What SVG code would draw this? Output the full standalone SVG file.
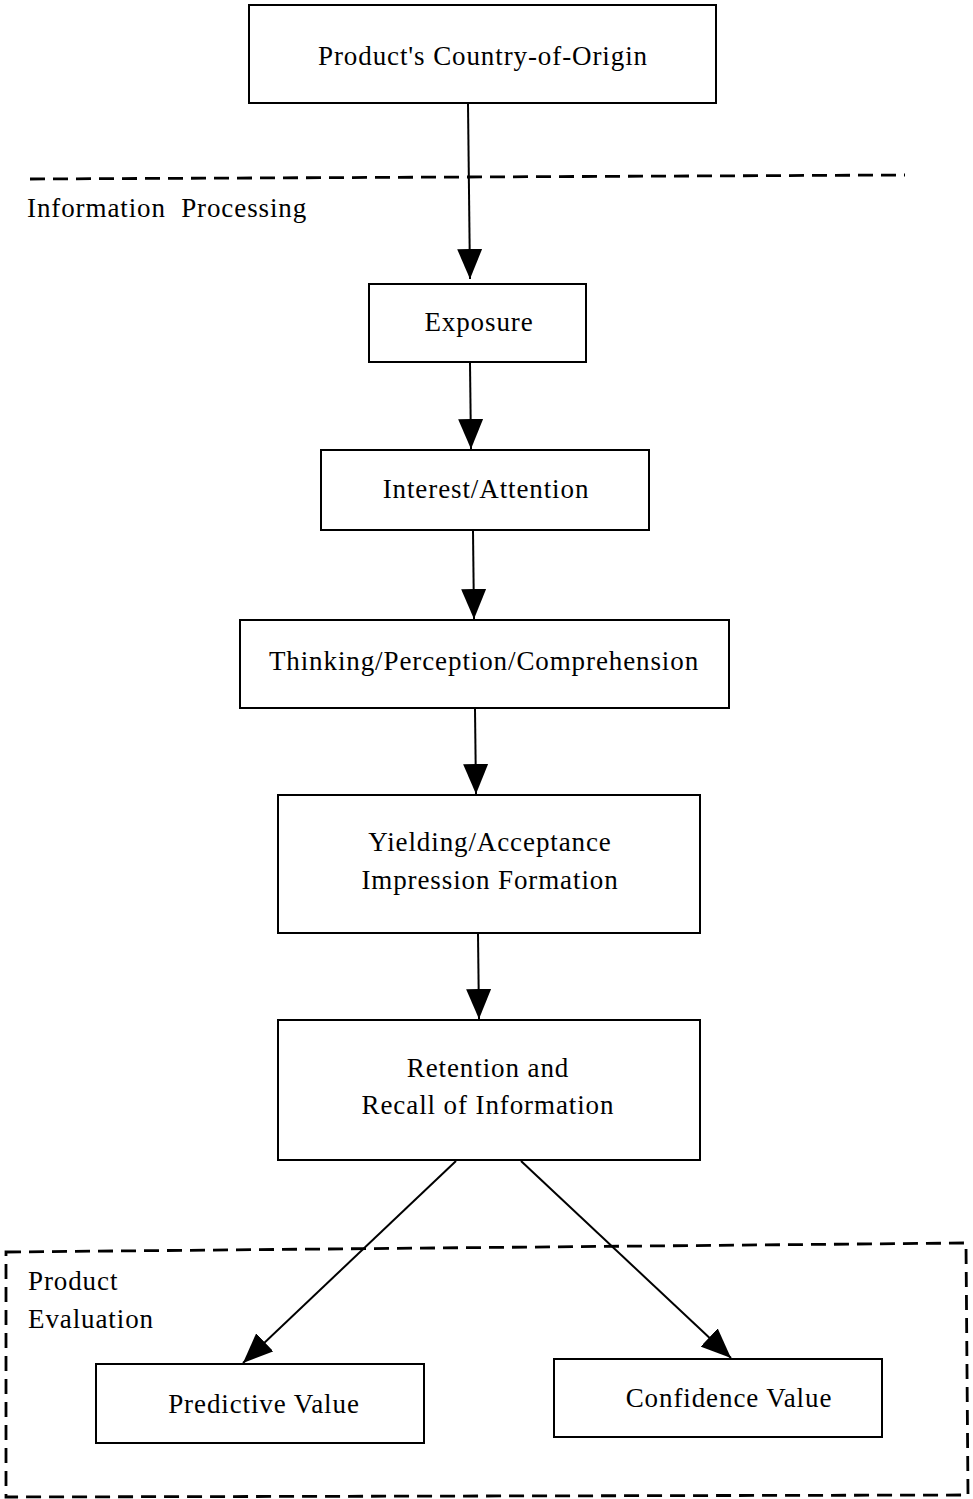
<svg xmlns="http://www.w3.org/2000/svg" width="973" height="1499" viewBox="0 0 973 1499">
<defs>
<marker id="ah" markerWidth="30" markerHeight="25" refX="30" refY="12.5" orient="auto" markerUnits="userSpaceOnUse" viewBox="0 0 30 25">
<path d="M0,0 L30,12.5 L0,25 Z" fill="#000"/>
</marker>
</defs>
<style>
.box{fill:#fff;stroke:#000;stroke-width:2}
.t{font-family:"Liberation Serif","Times New Roman",serif;font-size:27px;letter-spacing:0.9px;fill:#000}
.c{text-anchor:middle}
.conn{stroke:#000;stroke-width:2;fill:none}
.dash{stroke:#000;stroke-width:2.8;fill:none;stroke-dasharray:15 8}
</style>
<rect width="973" height="1499" fill="#fff"/>
<g id="regions">
<line class="dash" x1="30" y1="179" x2="905" y2="175"/>
<text class="t" x="27" y="217" xml:space="preserve">Information  Processing</text>
<path class="dash" d="M6,1252 L966,1243 L968,1495 L6,1497 Z"/>
<text class="t" x="28" y="1290">Product</text>
<text class="t" x="28" y="1328">Evaluation</text>
</g>
<g id="nodes">
<g id="n-origin">
<rect class="box" x="249" y="5" width="467" height="98"/>
<text class="t c" x="483" y="65">Product's Country-of-Origin</text>
</g>
<g id="n-exposure">
<rect class="box" x="369" y="284" width="217" height="78"/>
<text class="t c" x="479" y="331">Exposure</text>
</g>
<g id="n-interest">
<rect class="box" x="321" y="450" width="328" height="80"/>
<text class="t c" x="486" y="498">Interest/Attention</text>
</g>
<g id="n-thinking">
<rect class="box" x="240" y="620" width="489" height="88"/>
<text class="t c" x="484" y="670">Thinking/Perception/Comprehension</text>
</g>
<g id="n-yielding">
<rect class="box" x="278" y="795" width="422" height="138"/>
<text class="t c" x="490" y="851">Yielding/Acceptance</text>
<text class="t c" x="490" y="889">Impression Formation</text>
</g>
<g id="n-retention">
<rect class="box" x="278" y="1020" width="422" height="140"/>
<text class="t c" x="488" y="1077">Retention and</text>
<text class="t c" x="488" y="1114">Recall of Information</text>
</g>
<g id="n-predictive">
<rect class="box" x="96" y="1364" width="328" height="79"/>
<text class="t c" x="264" y="1413">Predictive Value</text>
</g>
<g id="n-confidence">
<rect class="box" x="554" y="1359" width="328" height="78"/>
<text class="t c" x="729" y="1407">Confidence Value</text>
</g>
</g>
<g id="connectors">
<line class="conn" x1="468" y1="104" x2="470" y2="279" marker-end="url(#ah)"/>
<line class="conn" x1="470" y1="363" x2="471" y2="449" marker-end="url(#ah)"/>
<line class="conn" x1="473" y1="531" x2="474" y2="619" marker-end="url(#ah)"/>
<line class="conn" x1="475" y1="709" x2="476" y2="794" marker-end="url(#ah)"/>
<line class="conn" x1="478" y1="934" x2="479" y2="1019" marker-end="url(#ah)"/>
<line class="conn" x1="456" y1="1161" x2="243" y2="1363" marker-end="url(#ah)"/>
<line class="conn" x1="521" y1="1161" x2="731" y2="1358" marker-end="url(#ah)"/>
</g>
</svg>
